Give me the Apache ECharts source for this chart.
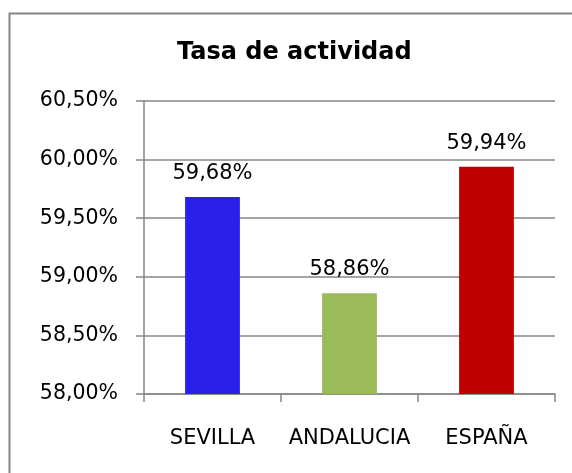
<!DOCTYPE html>
<html>
<head>
<meta charset="utf-8">
<script src="https://cdn.jsdelivr.net/npm/echarts@6/dist/echarts.min.js"></script>
<style>html,body{margin:0;padding:0;background:#fff}#c{width:572px;height:473px}</style>
</head>
<body>
<div id="c"></div>
<script>
var titleText = 'Tasa de actividad';
var categories = ['SEVILLA', 'ANDALUCIA', 'ESPAÑA'];
var values = [59.68, 58.86, 59.94];
var colors = ['#2A20EC', '#9BBB59', '#C00000'];
var yMin = 58, yMax = 60.5, yStep = 0.5;

function fmt(v) { return v.toFixed(2).replace('.', ',') + '%'; }

var chart = echarts.init(document.getElementById('c'), null, {renderer: 'canvas'});
chart.setOption({
  animation: false,
  backgroundColor: '#fff',
  textStyle: {fontFamily: 'DejaVu Sans'},
  graphic: [{
    type: 'rect', silent: true,
    shape: {x: 9.5, y: 13.5, width: 700, height: 600},
    style: {fill: 'none', stroke: '#868686', lineWidth: 2}
  }],
  title: {
    text: titleText, left: 177, top: 41,
    textStyle: {fontFamily: 'DejaVu Sans', fontWeight: 'bold', fontSize: 24, color: '#000'},
    padding: 0
  },
  grid: {left: 144, right: 17, top: 101, bottom: 79, containLabel: false},
  xAxis: {
    type: 'category', data: categories,
    axisLine: {lineStyle: {color: '#868686', width: 1.5}},
    axisTick: {show: true, length: 8, interval: 0, alignWithLabel: false, lineStyle: {color: '#868686', width: 1.5}},
    axisLabel: {fontSize: 21, interval: 0, color: '#000', margin: 34, fontFamily: 'DejaVu Sans'}
  },
  yAxis: {
    type: 'value', min: yMin, max: yMax, interval: yStep,
    axisLine: {show: true, lineStyle: {color: '#868686', width: 1.5}},
    axisTick: {show: true, length: 8, lineStyle: {color: '#868686', width: 1.5}},
    splitLine: {show: true, lineStyle: {color: '#868686', width: 1.5}},
    axisLabel: {fontSize: 20.5, color: '#000', margin: 26, fontFamily: 'DejaVu Sans', formatter: function (v) { return fmt(v); }}
  },
  series: [{
    type: 'bar',
    data: values.map(function (v, i) { return {value: v, itemStyle: {color: colors[i]}}; }),
    barWidth: '40%',
    label: {show: true, position: 'top', distance: 13, fontSize: 21, color: '#000', fontFamily: 'DejaVu Sans', formatter: function (p) { return fmt(p.value); }}
  }]
});
</script>
</body>
</html>
